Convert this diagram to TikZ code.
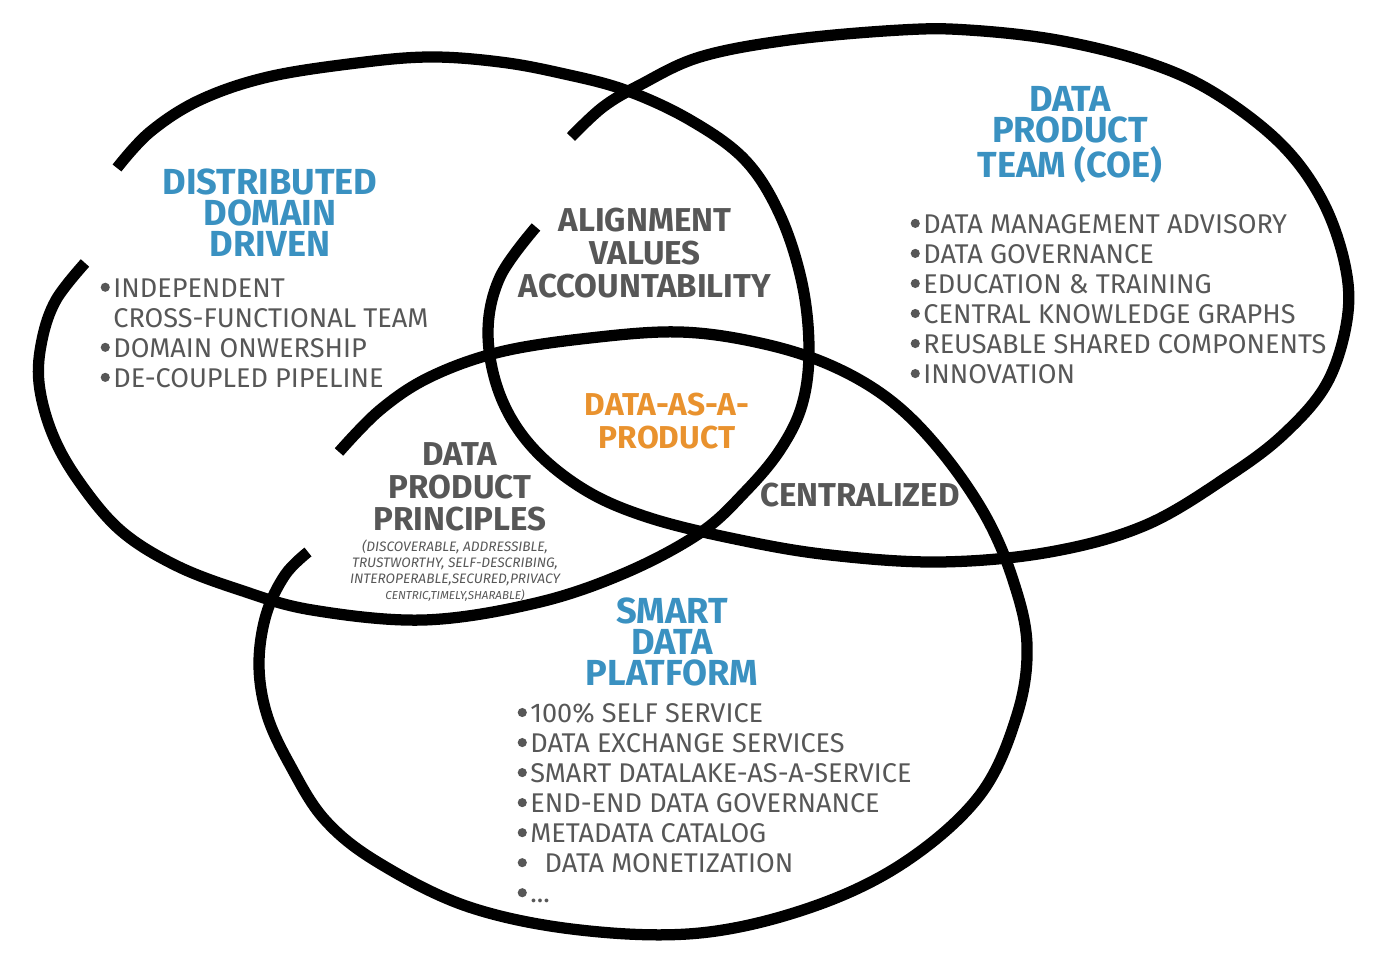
\documentclass[tikz,border=0pt]{standalone}
\usepackage{fontspec}
\setmainfont{Fira Sans}
\definecolor{titleblue}{HTML}{3A91C1}
\definecolor{coreorange}{HTML}{E9922E}
\definecolor{textgray}{HTML}{575757}
\newcommand{\ringdot}{\tikz[baseline={(0,0)}]{\path (0,0); \fill[textgray] (1.3pt,2.8pt) circle (1.3pt);}\hspace{1pt}}
\tikzset{
  venn/.style={line width=3.2pt, black},
  title/.style={text=titleblue, font=\fontsize{10.3}{8.8}\selectfont\bfseries, align=center, inner sep=0pt},
  overlap/.style={text=textgray, font=\fontsize{9.4}{9.3}\selectfont\bfseries, align=center, inner sep=0pt},
  bullets/.style={text=textgray, font=\fontsize{7.7}{8.54}\selectfont, align=left, inner sep=0pt, anchor=west},
  fineprint/.style={text=textgray, font=\fontsize{3.9}{4.55}\selectfont\itshape, align=center, inner sep=0pt}
}
\begin{document}
\begin{tikzpicture}[x=0.01cm,y=-0.01cm]
    \useasboundingbox (0,0) rectangle (1400,965);
    % three hand drawn rings, each left open
    \draw[venn] plot[smooth, tension=0.6] coordinates {(117,168) (150,132) (200,100) (268,77) (357,63) (430,57) (500,62) (560,73) (625,90) (690,120) (745,160) (780,215) (802,283) (809,350) (802,405) (780,450) (745,492) (700,533) (625,573) (536,603) (424,620) (312,610) (240,590) (175,565) (120,530) (78,480) (52,433) (39,383) (42,340) (56,300) (85,263)};
    \draw[venn] plot[smooth, tension=0.6] coordinates {(571,137) (603,107) (640,85) (700,57) (789,40) (901,30) (968,30) (1057,40) (1146,62) (1213,92) (1280,143) (1322,200) (1345,265) (1347,320) (1327,383) (1285,433) (1230,475) (1146,525) (1050,552) (940,562) (830,555) (740,540) (650,518) (585,490) (532,447) (500,395) (488,333) (500,277) (536,227)};
    \draw[venn] plot[smooth, tension=0.6] coordinates {(339,452) (380,410) (430,377) (500,352) (590,338) (680,332) (760,343) (830,365) (890,400) (940,450) (985,515) (1013,580) (1027,645) (1017,715) (980,795) (905,862) (812,907) (700,933) (580,930) (469,907) (379,863) (325,820) (290,765) (267,715) (259,665) (266,615) (285,575) (308,552)};

    \node[title] (domain_title) at (270,213) {DISTRIBUTED\\DOMAIN\\DRIVEN};
    \node[bullets] (domain_list) at (100,333) {\ringdot INDEPENDENT\\\phantom{\ringdot}CROSS-FUNCTIONAL TEAM\\\ringdot DOMAIN ONWERSHIP\\\ringdot DE-COUPLED PIPELINE};

    \node[title] (team_title) at (1070,135) {DATA\\PRODUCT\\TEAM (COE)};
    \node[bullets] (team_list) at (910,299) {\ringdot DATA MANAGEMENT ADVISORY\\\ringdot DATA GOVERNANCE\\\ringdot EDUCATION \& TRAINING\\\ringdot CENTRAL KNOWLEDGE GRAPHS\\\ringdot REUSABLE SHARED COMPONENTS\\\ringdot INNOVATION};

    \node[title] (platform_title) at (672,642) {SMART\\DATA\\PLATFORM};
    \node[bullets] (platform_list) at (517,803) {\ringdot 100\% SELF SERVICE\\\ringdot DATA EXCHANGE SERVICES\\\ringdot SMART DATALAKE-AS-A-SERVICE\\\ringdot END-END DATA GOVERNANCE\\\ringdot METADATA CATALOG\\\ringdot\ \ DATA MONETIZATION\\\ringdot ...};

    \node[overlap] (alignment) at (645,253) {ALIGNMENT\\VALUES\\ACCOUNTABILITY};
    \node[overlap] (principles) at (460,487) {DATA\\PRODUCT\\PRINCIPLES};
    \node[fineprint] (principles_list) at (455,571) {(DISCOVERABLE, ADDRESSIBLE,\\TRUSTWORTHY, SELF-DESCRIBING,\\INTEROPERABLE,SECURED,PRIVACY\\{\fontsize{3.3}{4.55}\selectfont CENTRIC,TIMELY,SHARABLE)}};
    \node[overlap] (centralized) at (860,495) {CENTRALIZED};
    \node[overlap, font=\fontsize{9}{9.3}\selectfont\bfseries, text=coreorange] (core) at (667,421) {DATA-AS-A-\\PRODUCT};
\end{tikzpicture}
\end{document}
